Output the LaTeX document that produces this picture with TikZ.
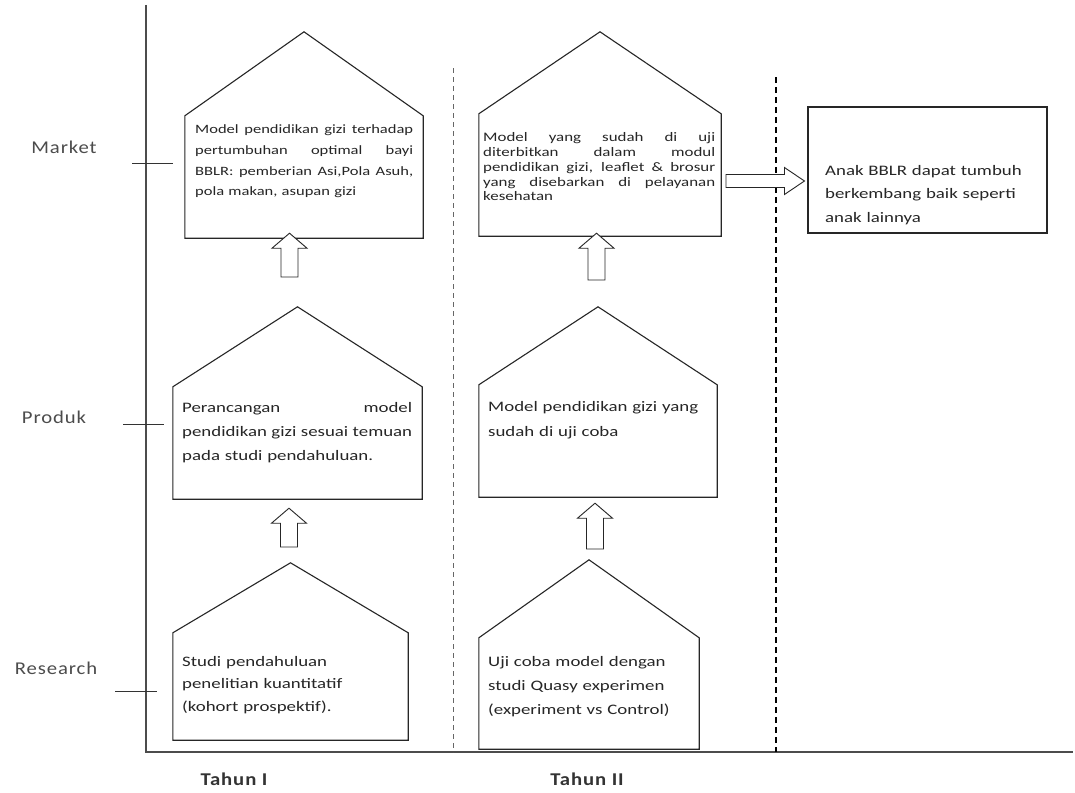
\documentclass[tikz,border=0pt]{standalone}
\usepackage{fontspec}
\setmainfont{Carlito}[FakeStretch=1.3]
\newfontfamily\labfont{Carlito}[FakeStretch=1.15, LetterSpace=5]
\usetikzlibrary{calc}
\newcommand\jl[2]{\makebox[#1][s]{\spaceskip=0.25em plus 5em\relax\xspaceskip=0.3em plus 5em\relax #2}}
\newcommand\blockup[2]{\draw[blk] let \p1=(#1), \p2=(#2) in
  (\x1-8.5pt,\y1) -- (\x1-8.5pt,\y2-15pt) -- (\x1-17.5pt,\y2-15pt) -- (\x1,\y2)
  -- (\x1+17.5pt,\y2-15pt) -- (\x1+8.5pt,\y2-15pt) -- (\x1+8.5pt,\y1) -- cycle;}
\newcommand\blockright[2]{\draw[blk] let \p1=(#1), \p2=(#2) in
  (\x1,\y1-6.5pt) -- (\x2-20pt,\y1-6.5pt) -- (\x2-20pt,\y1-13.5pt) -- (\x2,\y1)
  -- (\x2-20pt,\y1+13.5pt) -- (\x2-20pt,\y1+6.5pt) -- (\x1,\y1+6.5pt) -- cycle;}
\tikzset{
  housebody/.style={inner sep=0, minimum width=#1},
  outline/.style={draw=black!85, line width=1.1pt, line join=miter},
  blk/.style={draw=black!85, line width=0.9pt, fill=white},
  txt/.style={anchor=north west, inner sep=0, align=left, text=black!85},
  axis/.style={draw=black!70, line width=1.1pt},
  tick/.style={draw=black!80, line width=0.9pt},
  lab/.style={text=black!70, font=\labfont\fontsize{18}{21}\selectfont},
  tlab/.style={text=black!80, font=\labfont\bfseries\fontsize{18}{21}\selectfont},
  sep1/.style={draw=black!60, line width=0.9pt, dash pattern=on 5pt off 4pt},
  sep2/.style={draw=black, line width=1.4pt, dash pattern=on 6pt off 4pt}
}
\begin{document}
\begin{tikzpicture}[x=1pt,y=-1pt]
\useasboundingbox[fill=white] (0,0) rectangle (1075,792);

% axes
\coordinate (o) at (146,752);
\coordinate (ytop) at (146,5);
\coordinate (xend) at (1073,752);
\draw[axis] (ytop) -- (o) -- (xend);

% ticks and labels
\coordinate (tm1) at (132,163); \coordinate (tm2) at (173,163);
\coordinate (tp1) at (123,424); \coordinate (tp2) at (164,424);
\coordinate (tr1) at (115,691); \coordinate (tr2) at (157,691);
\draw[tick] (tm1) -- (tm2);
\draw[tick] (tp1) -- (tp2);
\draw[tick] (tr1) -- (tr2);
\node[lab] (lmarket) at (64,147) {Market};
\node[lab] (lproduk) at (54,417) {Produk};
\node[lab] (lresearch) at (56,668) {Research};
\node[tlab] (ltahun1) at (234,779) {Tahun I};
\node[tlab] (ltahun2) at (587,779) {Tahun II};

% separators
\coordinate (s1a) at (453,68); \coordinate (s1b) at (453,752);
\coordinate (s2a) at (776,77); \coordinate (s2b) at (776,752);
\draw[sep1] (s1a) -- (s1b);
\draw[sep2] (s2a) -- (s2b);

% houses: body nodes (eave line to bottom)
\node[housebody=238pt, minimum height=122pt] (A1) at (304,177) {};
\node[housebody=242pt, minimum height=122pt] (A2) at (600,175) {};
\node[housebody=249pt, minimum height=112pt] (B1) at (297.5,443) {};
\node[housebody=238pt, minimum height=112pt] (B2) at (598,441) {};
\node[housebody=235pt, minimum height=107pt] (C1) at (290.5,686.5) {};
\node[housebody=220pt, minimum height=111pt] (C2) at (589,693.5) {};
\node[outline, draw, inner sep=0, minimum width=239pt, minimum height=126pt] (D) at (927.5,170) {};

\draw[outline] (A1.south west) -- (A1.north west) -- ($(A1.north)+(0,-84)$) -- (A1.north east) -- (A1.south east) -- cycle;
\draw[outline] (A2.south west) -- (A2.north west) -- ($(A2.north)+(0,-82)$) -- (A2.north east) -- (A2.south east) -- cycle;
\draw[outline] (B1.south west) -- (B1.north west) -- ($(B1.north)+(0,-80)$) -- (B1.north east) -- (B1.south east) -- cycle;
\draw[outline] (B2.south west) -- (B2.north west) -- ($(B2.north)+(0,-78)$) -- (B2.north east) -- (B2.south east) -- cycle;
\draw[outline] (C1.south west) -- (C1.north west) -- ($(C1.north)+(0,-70)$) -- (C1.north east) -- (C1.south east) -- cycle;
\draw[outline] (C2.south west) -- (C2.north west) -- ($(C2.north)+(0,-78)$) -- (C2.north east) -- (C2.south east) -- cycle;

% texts
\node[txt, text width=218pt, font=\fontsize{12.7}{20.8}\selectfont] (tA1) at (195,124.5)
  {\jl{218pt}{Model pendidikan gizi terhadap}\\\jl{218pt}{pertumbuhan optimal bayi}\\\jl{218pt}{BBLR: pemberian Asi,Pola Asuh,}\\pola makan, asupan gizi};
\node[txt, text width=232pt, font=\fontsize{13}{14.8}\selectfont] (tA2) at (483,132.5)
  {\jl{232pt}{Model yang sudah di uji}\\\jl{232pt}{diterbitkan dalam modul}\\\jl{232pt}{pendidikan gizi, leaflet \& brosur}\\\jl{232pt}{yang disebarkan di pelayanan}\\kesehatan};
\node[txt, text width=230pt, font=\fontsize{14.5}{24}\selectfont] (tB1) at (182,402)
  {\jl{230pt}{Perancangan model}\\\jl{230pt}{pendidikan gizi sesuai temuan}\\pada studi pendahuluan.};
\node[txt, text width=228pt, font=\fontsize{14.5}{25}\selectfont] (tB2) at (488,401)
  {Model pendidikan gizi yang\\sudah di uji coba};
\node[txt, text width=215pt, font=\fontsize{14.5}{22.5}\selectfont] (tC1) at (182,656)
  {Studi pendahuluan\\penelitian kuantitatif\\(kohort prospektif).};
\node[txt, text width=205pt, font=\fontsize{14.5}{24}\selectfont] (tC2) at (488,656)
  {Uji coba model dengan\\studi Quasy experimen\\(experiment vs Control)};
\node[txt, text width=215pt, font=\fontsize{14.5}{23.5}\selectfont] (tD) at (825,165)
  {Anak BBLR dapat tumbuh\\berkembang baik seperti\\anak lainnya};

% block arrows
\coordinate (ab1) at (289.5,277);
\coordinate (ab2) at (596.5,280);
\coordinate (bc1) at (289,547);
\coordinate (bc2) at (595,549);
\coordinate (ad) at (726,181);
\blockup{ab1}{$(ab1 |- A1.south)+(0,-5)$}
\blockup{ab2}{$(ab2 |- A2.south)+(0,-3)$}
\blockup{bc1}{$(bc1 |- B1.south)+(0,9)$}
\blockup{bc2}{$(bc2 |- B2.south)+(0,6)$}
\blockright{ad}{$(ad -| D.west)+(-3,0)$}
\end{tikzpicture}
\end{document}
